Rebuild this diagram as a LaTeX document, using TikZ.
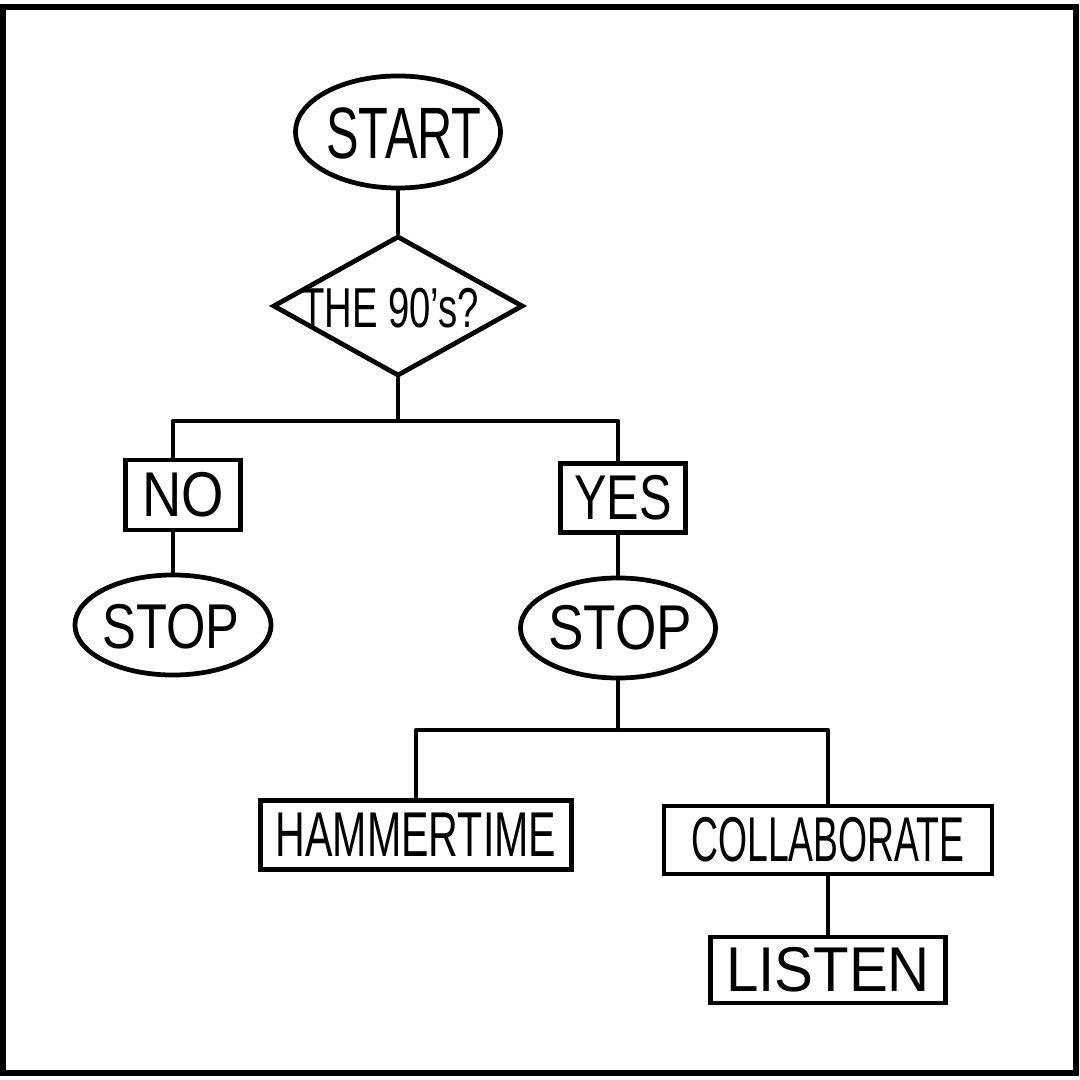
\documentclass[tikz,border=0pt]{standalone}
\usepackage{fontspec}
\usepackage{graphicx}
\setmainfont{Liberation Sans}
\usetikzlibrary{shapes.geometric}
\newcommand{\lbl}[2]{\scalebox{#1}[1]{#2}}
\begin{document}
\begin{tikzpicture}[x=0.01cm,y=-0.01cm,
  shapeline/.style={draw=black,line width=1.35pt},
  oval/.style={shapeline,ellipse,inner sep=0pt},
  boxnode/.style={shapeline,rectangle,inner sep=0pt},
  dia/.style={shapeline,diamond,inner sep=0pt,minimum width=2.5cm,minimum height=1.4cm},
  txt/.style={inner sep=0pt,font=\fontsize{18pt}{18pt}\selectfont},
  conn/.style={draw=black,line width=1.2pt,line cap=round,line join=round}]
\useasboundingbox (0,0) rectangle (1080,1080);
\draw[line width=1.5pt] (3,7) rectangle (1076,1073);
% nodes
\node[oval,minimum width=2.05cm,minimum height=1.12cm] (start) at (398,132) {};
\node[txt,font=\fontsize{20.7pt}{20.7pt}\selectfont] (startt) at (404,133) {\lbl{0.67}{START}};
\node[dia] (q) at (398,306) {};
\node[txt,font=\fontsize{16pt}{16pt}\selectfont] (qt) at (390,308) {\lbl{0.68}{THE 90’s?}};
\node[boxnode,minimum width=1.15cm,minimum height=0.70cm] (no) at (183,495) {};
\node[txt] (not) at (no) {\lbl{0.86}{NO}};
\node[oval,minimum width=1.96cm,minimum height=1.0cm] (stopl) at (173,625) {};
\node[txt] (stoplt) at (171,627) {\lbl{0.80}{STOP}};
\node[boxnode,minimum width=1.25cm,minimum height=0.69cm] (yes) at (623,498) {};
\node[txt] (yest) at (yes) {\lbl{0.77}{YES}};
\node[oval,minimum width=1.95cm,minimum height=1.0cm] (stopr) at (618,628) {};
\node[txt] (stoprt) at (620,628) {\lbl{0.84}{STOP}};
\node[boxnode,minimum width=3.11cm,minimum height=0.69cm] (ham) at (416,835) {};
\node[txt] (hamt) at (ham) {\lbl{0.65}{HAMMERTIME}};
\node[boxnode,minimum width=3.28cm,minimum height=0.68cm] (col) at (828,840) {};
\node[txt] (colt) at (col) {\lbl{0.59}{COLLABORATE}};
\node[boxnode,minimum width=2.35cm,minimum height=0.66cm] (lis) at (828,970) {};
\node[txt] (list) at (lis) {\lbl{0.92}{LISTEN}};
% junctions
\coordinate (b1) at (398,421);
\coordinate (b2) at (618,730);
% connectors
\draw[conn] (start.south) -- (q.north);
\draw[conn] (q.south) -- (b1);
\draw[conn] (stopl.north |- no.north) |- (b1) -| (stopr.north |- yes.north);
\draw[conn] (stopl.north) -- (stopl.north |- no.south);
\draw[conn] (stopr.north) -- (stopr.north |- yes.south);
\draw[conn] (stopr.south) -- (b2);
\draw[conn] (ham.north) |- (b2) -| (col.north);
\draw[conn] (col.south) -- (lis.north);
\end{tikzpicture}
\end{document}
